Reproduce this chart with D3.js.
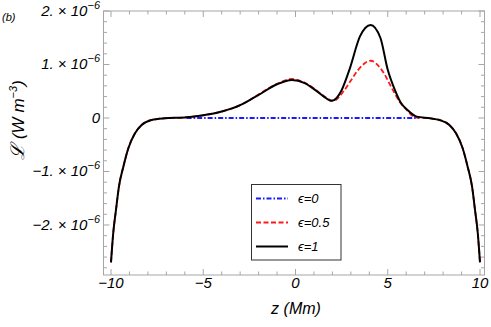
<!DOCTYPE html>
<html>
<head>
<meta charset="utf-8">
<script src="https://cdn.jsdelivr.net/npm/d3@7"></script>
<style>
  body { margin: 0; background: #fff; }
  text { font-family: "Liberation Sans", Arial, sans-serif; font-style: italic; }
</style>
</head>
<body>
<svg id="chart" width="491" height="327"></svg>
<script>
// values, L in units of 1e-6 W m^-3
var blackZ = [-10, -9.88, -9.73, -9.57, -9.33, -9.06, -8.7, -8.34, -7.8, -7.1, -6, -5, -4, -3, -2.46, -2, -1, -0.2, 0.5, 1, 1.5, 1.96, 2.5, 2.92, 3.5, 4.07, 4.6, 5.0, 5.39, 5.7, 6.07, 6.57, 7.3, 7.8, 8.34, 8.7, 9.06, 9.33, 9.57, 9.73, 9.88, 10];
var blackL = [-2.70, -2.155, -1.72, -1.284, -0.91, -0.566, -0.286, -0.131, -0.037, -0.006, 0.01, 0.05, 0.12, 0.24, 0.34, 0.43, 0.63, 0.71, 0.65, 0.54, 0.41, 0.32, 0.52, 0.9, 1.53, 1.74, 1.5, 0.9, 0.52, 0.29, 0.15, 0.025, -0.006, -0.037, -0.131, -0.286, -0.566, -0.91, -1.284, -1.72, -2.155, -2.70];

var redZ = [-10, -9.88, -9.73, -9.57, -9.33, -9.06, -8.7, -8.34, -7.8, -7.1, -6, -5, -4, -3, -2.46, -2, -1, -0.2, 0.5, 1, 1.5, 2.05, 2.65, 3.0, 3.4, 4.07, 4.67, 5.28, 5.65, 6.03, 6.48, 7.3, 7.8, 8.34, 8.7, 9.06, 9.33, 9.57, 9.73, 9.88, 10];
var redL = [-2.70, -2.155, -1.72, -1.284, -0.91, -0.566, -0.286, -0.131, -0.037, -0.006, 0.01, 0.05, 0.12, 0.24, 0.34, 0.44, 0.64, 0.73, 0.66, 0.55, 0.42, 0.32, 0.52, 0.7, 0.9, 1.07, 0.9, 0.52, 0.3, 0.15, 0.013, -0.006, -0.037, -0.131, -0.286, -0.566, -0.91, -1.284, -1.72, -2.155, -2.70];

var blueZ = [-5.9, 0, 6.7];
var blueL = [0, 0, 0];

var xTicks = [-10, -5, 0, 5, 10];
var yTicks = [-2, -1, 0, 1, 2];

var legendItems = ["ϵ=0", "ϵ=0.5", "ϵ=1"];

// frame box
var box = {left: 103.5, right: 484.5, top: 11, bottom: 275};

var svg = d3.select("#chart");

var x = d3.scaleLinear().domain([-10, 10]).range([111, 480]);
var y = d3.scaleLinear().domain([-2.935, 2]).range([box.bottom, box.top]);

// frame
svg.append("rect")
  .attr("x", box.left).attr("y", box.top)
  .attr("width", box.right - box.left).attr("height", box.bottom - box.top)
  .attr("fill", "none").attr("stroke", "#a6a6a6").attr("stroke-width", 1);

// ticks on all four sides (inward)
var tickColor = "#a6a6a6";
d3.range(-10, 11, 1).forEach(function(v) {
  var major = v % 5 === 0;
  var len = major ? 6 : 3.5;
  svg.append("line").attr("x1", x(v)).attr("x2", x(v))
    .attr("y1", box.bottom).attr("y2", box.bottom - len).attr("stroke", tickColor);
  svg.append("line").attr("x1", x(v)).attr("x2", x(v))
    .attr("y1", box.top).attr("y2", box.top + len).attr("stroke", tickColor);
});
d3.range(-14, 11, 1).forEach(function(i) {
  var v = i * 0.2;
  var major = i % 5 === 0;
  var len = major ? 6 : 3.5;
  if (y(v) < box.top - 0.5 || y(v) > box.bottom) return;
  svg.append("line").attr("y1", y(v)).attr("y2", y(v))
    .attr("x1", box.left).attr("x2", box.left + len).attr("stroke", tickColor);
  svg.append("line").attr("y1", y(v)).attr("y2", y(v))
    .attr("x1", box.right).attr("x2", box.right - len).attr("stroke", tickColor);
});

// x tick labels
svg.selectAll(".xl").data(xTicks).enter().append("text")
  .attr("x", function(d) { return x(d); })
  .attr("y", 288)
  .attr("text-anchor", "middle")
  .style("font-size", "15px")
  .text(function(d) { return d < 0 ? "\u2212" + Math.abs(d) : d; });

// y tick labels
yTicks.forEach(function(d) {
  var t = svg.append("text")
    .attr("x", 100)
    .attr("y", y(d) + 5)
    .attr("text-anchor", "end")
    .style("font-size", "15px");
  if (d === 0) {
    t.text("0");
  } else {
    t.append("tspan").text((d < 0 ? "\u2212" : "") + Math.abs(d) + ". \u00d7 10");
    t.append("tspan").attr("dy", -7).style("font-size", "11px").text("\u22126");
  }
});

// axis titles
svg.append("text")
  .attr("x", 296).attr("y", 314)
  .attr("text-anchor", "middle")
  .style("font-size", "16px")
  .text("z (Mm)");

var yl = svg.append("text")
  .attr("transform", "translate(24,120) rotate(-90)")
  .attr("text-anchor", "middle")
  .style("font-size", "17px");
yl.append("tspan").style("font-size", "19px").text("\u2112");
yl.append("tspan").text(" (W m");
yl.append("tspan").attr("dy", -7).style("font-size", "11px").text("\u22123");
yl.append("tspan").attr("dy", 7).text(")");

svg.append("text")
  .attr("x", 2).attr("y", 21)
  .style("font-size", "11px")
  .text("(b)");

// curves
var line = d3.line()
  .x(function(d) { return x(d[0]); })
  .y(function(d) { return y(d[1]); })
  .curve(d3.curveMonotoneX);

svg.append("path")
  .datum(d3.zip(blueZ, blueL))
  .attr("d", line)
  .attr("fill", "none").attr("stroke", "#1a1aff").attr("stroke-width", 2)
  .attr("stroke-dasharray", "5,2,1.5,2");

svg.append("path")
  .datum(d3.zip(redZ, redL))
  .attr("d", line)
  .attr("fill", "none").attr("stroke", "#ff1a1a").attr("stroke-width", 1.8)
  .attr("stroke-dasharray", "5,2.5");

svg.append("path")
  .datum(d3.zip(blackZ, blackL))
  .attr("d", line)
  .attr("fill", "none").attr("stroke", "#000").attr("stroke-width", 2);

// legend
var lg = svg.append("g");
lg.append("rect")
  .attr("x", 251.5).attr("y", 184.5).attr("width", 89.5).attr("height", 75.5)
  .attr("fill", "#fff").attr("stroke", "#333").attr("stroke-width", 1);
var lgStyles = [
  {color: "#1a1aff", dash: "5,2,1.5,2", w: 2},
  {color: "#ff1a1a", dash: "5,2.5", w: 1.8},
  {color: "#000", dash: null, w: 2}
];
legendItems.forEach(function(name, i) {
  var yy = 198.5 + i * 24;
  lg.append("line")
    .attr("x1", 256).attr("x2", 288).attr("y1", yy).attr("y2", yy)
    .attr("stroke", lgStyles[i].color).attr("stroke-width", lgStyles[i].w)
    .attr("stroke-dasharray", lgStyles[i].dash);
  lg.append("text")
    .attr("x", 298).attr("y", yy + 4.5)
    .style("font-size", "13px")
    .text(name);
});
</script>
</body>
</html>
